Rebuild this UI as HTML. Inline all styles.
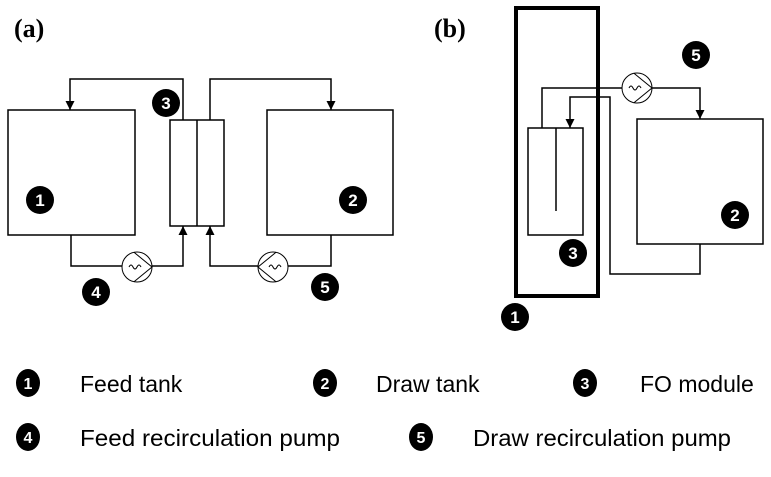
<!DOCTYPE html>
<html><head><style>body{margin:0;background:#fff;width:771px;height:472px;overflow:hidden}</style></head>
<body>
<svg width="771" height="472" viewBox="0 0 771 472" xmlns="http://www.w3.org/2000/svg">
<defs>
<marker id="ar" viewBox="0 0 10 10" refX="10" refY="5" markerWidth="9" markerHeight="9" markerUnits="userSpaceOnUse" orient="auto"><path d="M0,0L10,5L0,10z" fill="#000"/></marker>
<g id="pumpR"><circle r="15" fill="#fff" stroke="#000" stroke-width="1"/><path d="M-3,-14.7L15,0L-3,14.7" fill="none" stroke="#000" stroke-width="1"/><path d="M-8,0q2,-4 4,0t4,0t4,0" fill="none" stroke="#000" stroke-width="1"/></g>
<g id="pumpL"><circle r="15" fill="#fff" stroke="#000" stroke-width="1"/><path d="M3,-14.7L-15,0L3,14.7" fill="none" stroke="#000" stroke-width="1"/><path d="M-4,0q2,-4 4,0t4,0t4,0" fill="none" stroke="#000" stroke-width="1"/></g>
</defs>
<g font-family="Liberation Serif, serif" font-weight="bold" font-size="26"><text x="14" y="37">(a)</text><text x="434" y="37">(b)</text></g>
<g fill="none" stroke="#000" stroke-width="1.5">
<rect x="8" y="110" width="127" height="125"/>
<rect x="267" y="110" width="126" height="125"/>
<rect x="170" y="120" width="54" height="106"/>
<line x1="197" y1="120" x2="197" y2="226"/>
<polyline points="183,120 183,79 70,79 70,110" marker-end="url(#ar)"/>
<polyline points="210,120 210,79 331,79 331,110" marker-end="url(#ar)"/>
<polyline points="71,235 71,266 183,266 183,226" marker-end="url(#ar)"/>
<polyline points="331,235 331,266 210,266 210,226" marker-end="url(#ar)"/>
<rect x="637" y="119" width="126" height="125"/>
<rect x="528" y="128" width="55" height="107"/>
<line x1="556" y1="128" x2="556" y2="211"/>
<polyline points="542,128 542,88 700,88 700,119" marker-end="url(#ar)"/>
<polyline points="700,244 700,274 610,274 610,97 570,97 570,128" marker-end="url(#ar)"/>
<rect x="516" y="8" width="82" height="288" stroke-width="4"/>
</g>
<use href="#pumpR" x="137" y="267"/>
<use href="#pumpL" x="273" y="267"/>
<use href="#pumpR" x="637" y="88"/>
<g font-family="Liberation Sans, sans-serif" font-weight="bold" font-size="17" text-anchor="middle">
<circle cx="40" cy="200" r="14"/><text x="40" y="206" fill="#fff">1</text>
<circle cx="353" cy="200" r="14"/><text x="353" y="206" fill="#fff">2</text>
<circle cx="166" cy="103" r="14"/><text x="166" y="109" fill="#fff">3</text>
<circle cx="96" cy="292" r="14"/><text x="96" y="298" fill="#fff">4</text>
<circle cx="325" cy="287" r="14"/><text x="325" y="293" fill="#fff">5</text>
<circle cx="696" cy="55" r="14"/><text x="696" y="61" fill="#fff">5</text>
<circle cx="735" cy="215" r="14"/><text x="735" y="221" fill="#fff">2</text>
<circle cx="573" cy="253" r="14"/><text x="573" y="259" fill="#fff">3</text>
<circle cx="515" cy="317" r="14"/><text x="515" y="323" fill="#fff">1</text>
<g font-size="16">
<ellipse cx="28" cy="383" rx="12" ry="14"/><text x="28" y="389" fill="#fff">1</text>
<ellipse cx="325" cy="383" rx="12" ry="14"/><text x="325" y="389" fill="#fff">2</text>
<ellipse cx="585" cy="383" rx="12" ry="14"/><text x="585" y="389" fill="#fff">3</text>
<ellipse cx="28" cy="437" rx="12" ry="14"/><text x="28" y="443" fill="#fff">4</text>
<ellipse cx="421" cy="437" rx="12" ry="14"/><text x="421" y="443" fill="#fff">5</text>
</g></g>
<g font-family="Liberation Sans, sans-serif" font-size="23">
<text x="80" y="392">Feed tank</text>
<text x="376" y="392">Draw tank</text>
<text x="640" y="392">FO module</text>
<text x="80" y="446" textLength="260" lengthAdjust="spacingAndGlyphs">Feed recirculation pump</text>
<text x="473" y="446" textLength="258" lengthAdjust="spacingAndGlyphs">Draw recirculation pump</text>
</g>
</svg>
</body></html>
